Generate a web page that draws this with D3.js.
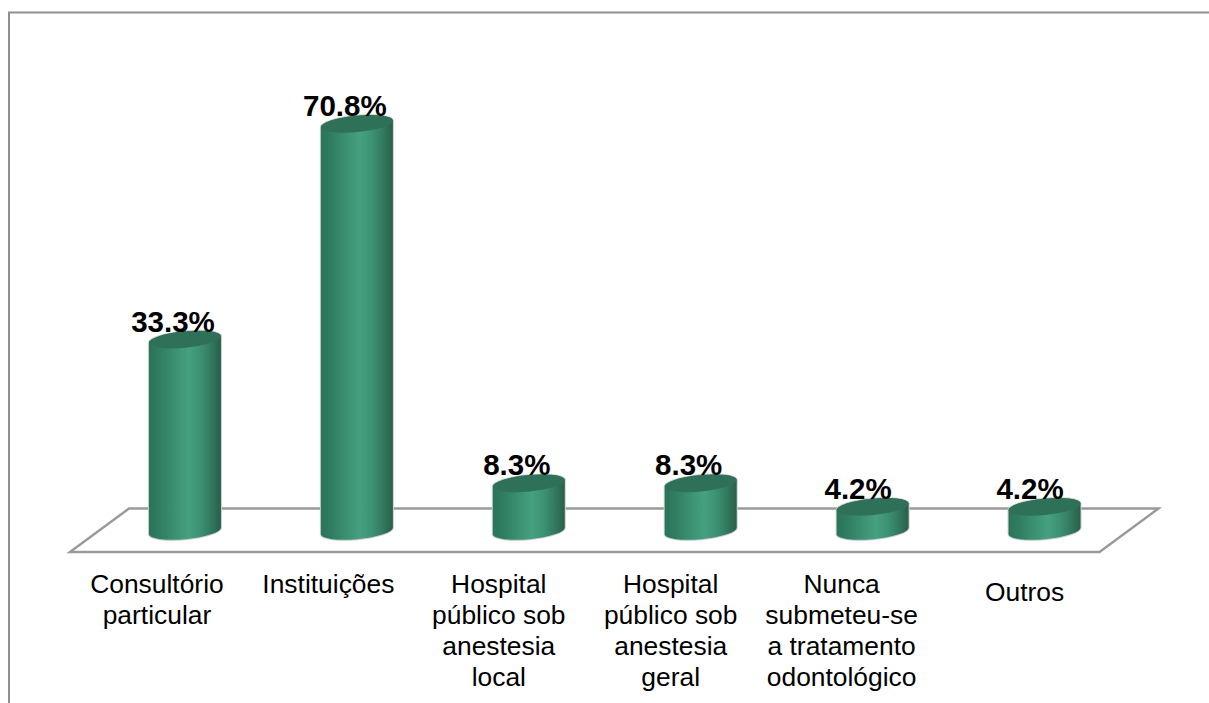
<!DOCTYPE html>
<html><head><meta charset="utf-8">
<script src="https://cdn.jsdelivr.net/npm/d3@7/dist/d3.min.js"></script>
<style>html,body{margin:0;padding:0;background:#fff}svg{display:block}text{font-family:"Liberation Sans",Arial,sans-serif}</style>
</head><body><script>
const categories = ["Consultório particular","Instituições","Hospital público sob anestesia local","Hospital público sob anestesia geral","Nunca submeteu-se a tratamento odontológico","Outros"];
const categoryLines = [["Consultório","particular"],["Instituições"],["Hospital","público sob","anestesia","local"],["Hospital","público sob","anestesia","geral"],["Nunca","submeteu-se","a tratamento","odontológico"],["Outros"]];
const values = [33.3,70.8,8.3,8.3,4.2,4.2];
const valueLabels = ["33.3%","70.8%","8.3%","8.3%","4.2%","4.2%"];

const W=1209,H=703;
const svg=d3.select("body").append("svg").attr("width",W).attr("height",H);
const x=d3.scaleBand().domain(categories).range([99,1130.5]);
const y=d3.scaleLinear().domain([0,100]).range([531,-44]);
const bw=72, halfW=bw/2, tilt=3.5, rx=Math.hypot(halfW,tilt), ry=8.2, angle=-5.5;
const cx=c=>x(c)+x.bandwidth()/2;
const labelShift=[28,28.5,30,30,31,20];

const defs=svg.append("defs");
const g=defs.append("linearGradient").attr("id","cyl");
[[0,"#2b7459"],[.14,"#2f7d60"],[.35,"#3b9072"],[.55,"#45a17f"],[.72,"#3c9072"],[.88,"#31765c"],[1,"#28604a"]]
 .forEach(s=>g.append("stop").attr("offset",s[0]).attr("stop-color",s[1]));

// frame
svg.append("path").attr("d",`M9,${H}V12.5H${W}`).attr("fill","none").attr("stroke","#8f8f8f").attr("stroke-width",2);

// floor
const floorTop=y(0)-22.5, floorBot=y(0)+21;
const floorL=x.range()[0], floorR=x.range()[1];
svg.append("path")
 .attr("d",`M${floorL-29},${floorBot}L${floorL+30},${floorTop}L${floorR+28},${floorTop}L${floorR-31},${floorBot}Z`)
 .attr("fill","none").attr("stroke","#9a9a9a").attr("stroke-width",2.4);

const bodyPath=(c,v)=>{const X=cx(c),T=y(v),B=y(0);
 return `M${X-halfW},${T+tilt}L${X-halfW},${B+tilt}A${rx},${ry} ${angle} 0 0 ${X+halfW},${B-tilt}L${X+halfW},${T-tilt}A${rx},${ry} ${angle} 0 0 ${X-halfW},${T+tilt}Z`;};

const bars=svg.selectAll("g.bar").data(categories.map((c,i)=>({c,v:values[i],l:valueLabels[i]}))).join("g").attr("class","bar");
bars.append("path").attr("d",d=>bodyPath(d.c,d.v)).attr("fill","none").attr("stroke","#cfcfcf").attr("stroke-width",2);
bars.append("path").attr("d",d=>bodyPath(d.c,d.v)).attr("fill","url(#cyl)");
bars.append("ellipse").attr("cx",d=>cx(d.c)).attr("cy",d=>y(d.v)).attr("rx",rx).attr("ry",ry)
 .attr("transform",d=>`rotate(${angle} ${cx(d.c)} ${y(d.v)})`).attr("fill","#2f7059");

// value labels
svg.selectAll("text.val").data(categories).join("text").attr("class","val")
 .attr("x",(c,i)=>cx(c)-(i<4?12:14.5)).attr("y",(c,i)=>y(values[i])-8)
 .attr("text-anchor","middle").attr("font-weight","bold").attr("font-size",29.5).attr("fill","#000")
 .text((c,i)=>valueLabels[i]);

// category labels
const lab=svg.selectAll("text.cat").data(categories).join("text").attr("class","cat")
 .attr("text-anchor","middle").attr("font-size",26.4).attr("fill","#000");
lab.each(function(c,i){
 const sel=d3.select(this), lines=categoryLines[i];
 const X=cx(c)-labelShift[i], Y0=(i==5?601:593);
 lines.forEach((t,k)=>sel.append("tspan").attr("x",X).attr("y",Y0+k*31).text(t));
});
</script></body></html>
